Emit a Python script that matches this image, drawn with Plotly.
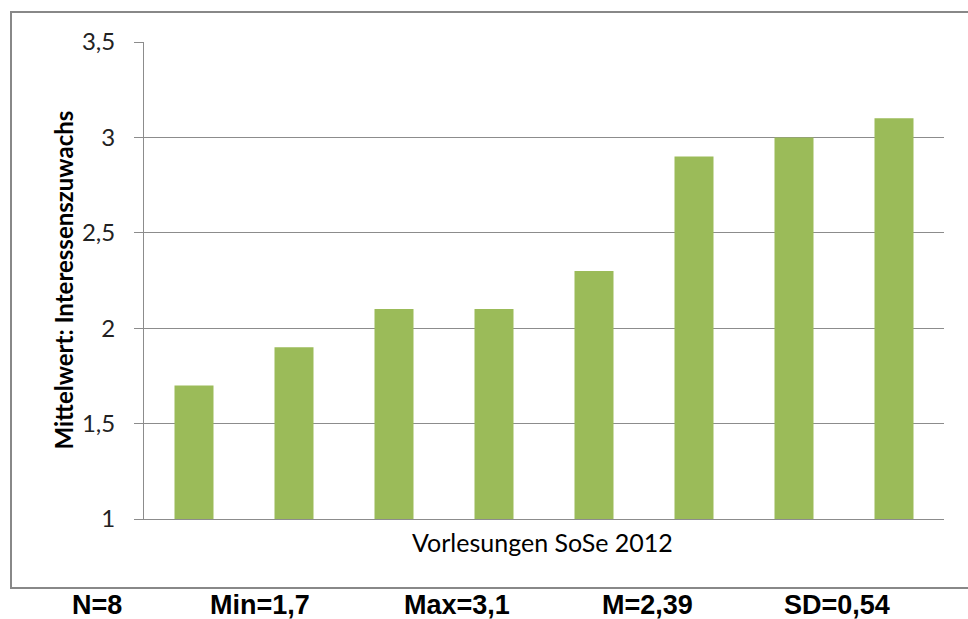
import plotly.graph_objects as go

categories = ["V1", "V2", "V3", "V4", "V5", "V6", "V7", "V8"]
values = [1.7, 1.9, 2.1, 2.1, 2.3, 2.9, 3.0, 3.1]
y_ticks = [1, 1.5, 2, 2.5, 3, 3.5]
stats_labels = ["N=8", "Min=1,7", "Max=3,1", "M=2,39", "SD=0,54"]
stats_left_px = [70, 208, 402, 600, 782]

W, H = 968, 619
L, R, T, B = 144, 24, 42, 100
pw = W - L - R
ph = H - T - B

def px_x(p):
    return (p - L) / pw

def px_y(p):
    return (H - B - p) / ph

fig = go.Figure()
fig.add_trace(go.Bar(x=categories, y=values, marker=dict(color="#9BBB59", line=dict(width=0)),
                     width=0.39, hoverinfo="x+y"))

annotations = [
    dict(text="<b>Mittelwert: Interessenszuwachs</b>", x=px_x(63), y=0.5, xref="paper", yref="paper",
         textangle=-90, showarrow=False, xanchor="center", yanchor="middle",
         font=dict(family="Lato", size=24, color="#000000")),
    dict(text="Vorlesungen SoSe 2012", x=px_x(542), y=px_y(542), xref="paper", yref="paper",
         showarrow=False, xanchor="center", yanchor="middle",
         font=dict(family="Lato", size=25, color="#000000")),
]
for lab, lp in zip(stats_labels, stats_left_px):
    annotations.append(dict(text="<b>" + lab + "</b>", x=px_x(lp), y=px_y(605), xref="paper", yref="paper",
                            showarrow=False, xanchor="left", yanchor="middle",
                            font=dict(family="Liberation Sans, Arial", size=27, color="#000000")))

fig.update_layout(
    width=W, height=H,
    margin=dict(l=L, r=R, t=T, b=B),
    paper_bgcolor="white", plot_bgcolor="white",
    separators=",.",
    showlegend=False,
    annotations=annotations,
    shapes=[
        dict(type="line", xref="paper", yref="paper", x0=px_x(11), x1=px_x(11), y0=px_y(588), y1=px_y(12),
             line=dict(color="#888888", width=2), layer="below"),
        dict(type="line", xref="paper", yref="paper", x0=px_x(10), x1=px_x(1200), y0=px_y(12), y1=px_y(12),
             line=dict(color="#888888", width=2), layer="below"),
        dict(type="line", xref="paper", yref="paper", x0=px_x(10), x1=px_x(1200), y0=px_y(588), y1=px_y(588),
             line=dict(color="#888888", width=2), layer="below"),
    ],
)
fig.update_xaxes(showticklabels=False, showgrid=False, showline=True, linecolor="#8C8C8C",
                 linewidth=1, ticks="", zeroline=False)
fig.update_yaxes(range=[1, 3.5], tickvals=y_ticks, showgrid=True, gridcolor="#8C8C8C", gridwidth=1,
                 showline=True, linecolor="#8C8C8C", linewidth=1, ticks="outside", ticklen=9,
                 tickcolor="#8C8C8C", zeroline=False, ticklabelstandoff=14,
                 tickfont=dict(family="Lato", size=24, color="#222222"))

fig.write_html("out.html", config={"displayModeBar": False},
               post_script="document.body.style.margin='0';document.body.style.overflow='hidden';")
